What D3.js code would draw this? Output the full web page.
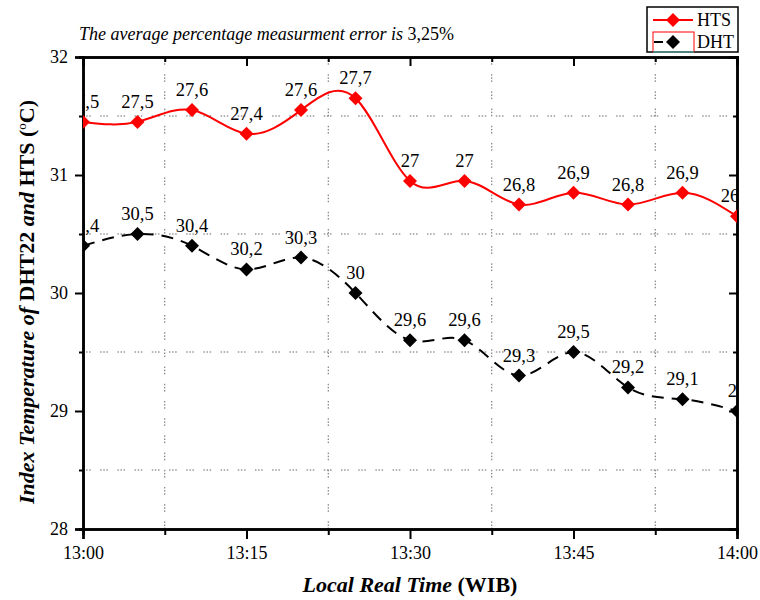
<!DOCTYPE html>
<html>
<head>
<meta charset="utf-8">
<script src="https://cdn.jsdelivr.net/npm/d3@7"></script>
<style>
  body { margin: 0; background: #fff; }
  svg { display: block; }
</style>
</head>
<body>
<svg id="chart" width="760" height="600"></svg>
<script>
// Sampling times (local time, WIB)
const times = ["13:00","13:05","13:10","13:15","13:20","13:25","13:30","13:35","13:40","13:45","13:50","13:55","14:00"];
// HTS sensor readings (°C) shown as labels; plotted as an index shifted by a fixed offset
const htsReadings = [27.5, 27.5, 27.6, 27.4, 27.6, 27.7, 27.0, 27.0, 26.8, 26.9, 26.8, 26.9, 26.7];
const htsIndexOffset = 3.95;
// DHT22 readings (°C)
const dhtValues = [30.4, 30.5, 30.4, 30.2, 30.3, 30.0, 29.6, 29.6, 29.3, 29.5, 29.2, 29.1, 29.0];
// Axis ticks
const xTickLabels = ["13:00","13:15","13:30","13:45","14:00"];
const xMinorLabels = ["13:07.5","13:22.5","13:37.5","13:52.5"];
const yTicks = [28, 29, 30, 31, 32];
const yMinorTicks = [28.5, 29.5, 30.5, 31.5];
const seriesNames = ["HTS", "DHT"];
const titleText = "The average percentage measurment error is ";
const titleValue = "3,25%";

const SERIF = '"Liberation Serif", "Times New Roman", Times, "Nimbus Roman", "DejaVu Serif", "Noto Serif", serif';
const toMinutes = s => { const [h, m] = s.split(":"); return (+h - 13) * 60 + (+m); };

const svg = d3.select("#chart");
const margin = { left: 83, top: 57, right: 23, bottom: 71 };
const W = 760 - margin.left - margin.right;
const H = 600 - margin.top - margin.bottom;

const x = d3.scaleLinear().domain([0, 60]).range([0, W]);
const y = d3.scaleLinear().domain([28, 32]).range([H, 0]);

const g = svg.append("g").attr("transform", `translate(${margin.left},${margin.top})`);

svg.append("defs").append("clipPath").attr("id", "plotClip")
  .append("rect").attr("x", 0).attr("y", 0).attr("width", W).attr("height", H);

// Dotted grid on the minor positions
const gridDash = "1.5,1.6,1.5,1.6,1.5,9.5";
g.append("g").selectAll("line").data(yMinorTicks).join("line")
  .attr("x1", 0).attr("x2", W)
  .attr("y1", d => y(d)).attr("y2", d => y(d))
  .attr("stroke", "#666").attr("stroke-width", 1).attr("stroke-dasharray", gridDash);
g.append("g").selectAll("line").data(xMinorLabels.map(toMinutes)).join("line")
  .attr("y1", 0).attr("y2", H)
  .attr("x1", d => x(d)).attr("x2", d => x(d))
  .attr("stroke", "#666").attr("stroke-width", 1).attr("stroke-dasharray", gridDash);

// Axes: major ticks with labels, minor ticks without
const xMajor = xTickLabels.map(toMinutes);
const xMinor = xMinorLabels.map(toMinutes);
const fmtTime = m => xTickLabels[xMajor.indexOf(m)];

function styleAxis(sel) {
  sel.attr("font-family", null).attr("font-size", null);
  sel.selectAll("path.domain").attr("stroke", "#000").attr("stroke-width", 2.5);
  sel.selectAll(".tick line").attr("stroke", "#000").attr("stroke-width", 2);
  sel.selectAll(".tick text").attr("font-size", 18).attr("fill", "#000");
}

// bottom
g.append("g").attr("transform", `translate(0,${H})`)
  .call(d3.axisBottom(x).tickValues(xMinor).tickSize(6).tickFormat(""))
  .call(styleAxis);
g.append("g").attr("transform", `translate(0,${H})`)
  .call(d3.axisBottom(x).tickValues(xMajor).tickSize(10).tickPadding(7).tickFormat(fmtTime))
  .call(styleAxis);
// top (ticks inward)
g.append("g")
  .call(d3.axisTop(x).tickValues(xMinor).tickSize(-5).tickFormat(""))
  .call(styleAxis);
g.append("g")
  .call(d3.axisTop(x).tickValues(xMajor).tickSize(-9).tickFormat(""))
  .call(styleAxis);
// left
g.append("g")
  .call(d3.axisLeft(y).tickValues(yMinorTicks).tickSize(4).tickFormat(""))
  .call(styleAxis);
g.append("g")
  .call(d3.axisLeft(y).tickValues(yTicks).tickSize(8).tickPadding(7).tickFormat(d3.format("d")))
  .call(styleAxis);
// right (ticks inward)
g.append("g").attr("transform", `translate(${W},0)`)
  .call(d3.axisRight(y).tickValues(yMinorTicks).tickSize(-4).tickFormat(""))
  .call(styleAxis);
g.append("g").attr("transform", `translate(${W},0)`)
  .call(d3.axisRight(y).tickValues(yTicks).tickSize(-8).tickFormat(""))
  .call(styleAxis);

// Series data
const fmtComma = v => String(+v.toFixed(1)).replace(".", ",");
const hts = times.map((t, i) => ({ t: toMinutes(t), v: htsReadings[i] + htsIndexOffset, label: fmtComma(htsReadings[i]) }));
const dht = times.map((t, i) => ({ t: toMinutes(t), v: dhtValues[i], label: fmtComma(dhtValues[i]) }));

const line = d3.line().x(d => x(d.t)).y(d => y(d.v)).curve(d3.curveNatural);
const diamond = d3.symbol().type(d3.symbolSquare).size(98);

const plot = g.append("g").attr("clip-path", "url(#plotClip)");

function drawSeries(data, color, dash) {
  plot.append("path").datum(data)
    .attr("d", line).attr("fill", "none")
    .attr("stroke", color).attr("stroke-width", 2)
    .attr("stroke-dasharray", dash);
  plot.append("g").selectAll("path").data(data).join("path")
    .attr("d", diamond)
    .attr("transform", d => `translate(${x(d.t)},${y(d.v)}) rotate(45)`)
    .attr("fill", color);
  plot.append("g").selectAll("text").data(data).join("text")
    .attr("x", d => x(d.t)).attr("y", d => y(d.v) - 14)
    .attr("text-anchor", "middle").attr("font-size", 18.5)
    .text(d => d.label);
}
drawSeries(dht, "#000", "12,8");
drawSeries(hts, "#ff0000", null);

// Title note
const note = svg.append("text").attr("x", 79).attr("y", 39.5).attr("font-size", 18);
note.append("tspan").attr("font-style", "italic").text(titleText);
note.append("tspan").text(titleValue);

// Axis titles
const xt = svg.append("text").attr("x", margin.left + W / 2).attr("y", 592)
  .attr("text-anchor", "middle").attr("font-size", 22).attr("font-weight", "bold");
xt.append("tspan").attr("font-style", "italic").text("Local Real Time ");
xt.append("tspan").text("(WIB)");

const yt = svg.append("text").attr("transform", `translate(34,302) rotate(-90)`)
  .attr("text-anchor", "middle").attr("font-size", 22).attr("font-weight", "bold");
yt.append("tspan").attr("font-style", "italic").text("Index Temperature of ");
yt.append("tspan").text("DHT22 ");
yt.append("tspan").attr("font-style", "italic").text("and ");
yt.append("tspan").text("HTS (");
yt.append("tspan").attr("font-weight", "normal").attr("font-size", 13).attr("dy", -8).text("o");
yt.append("tspan").attr("dy", 8).text("C)");

// Legend
const lg = svg.append("g");
lg.append("rect").attr("x", 647).attr("y", 7).attr("width", 91).attr("height", 45)
  .attr("fill", "#fff").attr("stroke", "#000").attr("stroke-width", 1.5);
lg.append("line").attr("x1", 653).attr("x2", 693).attr("y1", 20).attr("y2", 20)
  .attr("stroke", "#ff0000").attr("stroke-width", 2);
lg.append("path").attr("d", diamond).attr("transform", "translate(673,20) rotate(45)").attr("fill", "#ff0000");
lg.append("text").attr("x", 697).attr("y", 26).attr("font-size", 18).text(seriesNames[0]);
lg.append("rect").attr("x", 653).attr("y", 32).attr("width", 41).attr("height", 20)
  .attr("fill", "none").attr("stroke", "#ff0000").attr("stroke-width", 1);
lg.append("line").attr("x1", 653).attr("x2", 694).attr("y1", 52).attr("y2", 52)
  .attr("stroke", "#00e5e5").attr("stroke-width", 1);
lg.append("line").attr("x1", 654).attr("x2", 663).attr("y1", 42).attr("y2", 42)
  .attr("stroke", "#000").attr("stroke-width", 2);
lg.append("path").attr("d", diamond).attr("transform", "translate(673,42) rotate(45)").attr("fill", "#000");
lg.append("text").attr("x", 697).attr("y", 48).attr("font-size", 18).text(seriesNames[1]);

// One serif face for every label on the page
svg.selectAll("text").style("font-family", SERIF).attr("fill", "#000");
</script>
</body>
</html>
